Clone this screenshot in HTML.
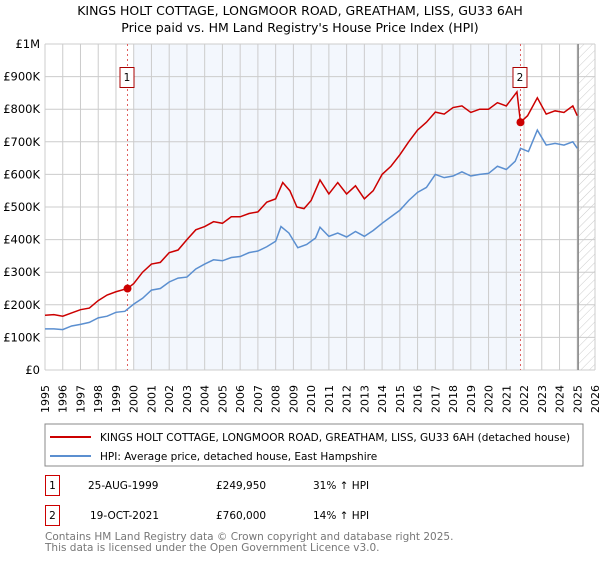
<!DOCTYPE html>
<html><head><meta charset="utf-8"><style>
body{margin:0;background:#fff;font-family:"Liberation Sans","DejaVu Sans",sans-serif;}
svg text{font-family:"DejaVu Sans","Liberation Sans",sans-serif;}
</style></head><body>
<svg id="chart" width="600" height="560" viewBox="0 0 600 560" xmlns="http://www.w3.org/2000/svg">
<defs><pattern id="hatch" width="6" height="6" patternUnits="userSpaceOnUse" patternTransform="rotate(45)"><line x1="0" y1="0" x2="0" y2="6" stroke="#ccc" stroke-width="1"/></pattern></defs>
<text x="300" y="15" text-anchor="middle" font-size="12.5" fill="#000">KINGS HOLT COTTAGE, LONGMOOR ROAD, GREATHAM, LISS, GU33 6AH</text>
<text x="300" y="32" text-anchor="middle" font-size="12.5" fill="#000">Price paid vs. HM Land Registry's House Price Index (HPI)</text>
<g id="plot"></g>
<rect x="45" y="424" width="538" height="42" fill="#fff" stroke="#888"/>
<line x1="50" y1="437" x2="91" y2="437" stroke="#cc0000" stroke-width="2"/>
<text x="100" y="441" font-size="10.5">KINGS HOLT COTTAGE, LONGMOOR ROAD, GREATHAM, LISS, GU33 6AH (detached house)</text>
<line x1="50" y1="456" x2="91" y2="456" stroke="#5b8fd0" stroke-width="2"/>
<text x="100" y="460" font-size="10.5">HPI: Average price, detached house, East Hampshire</text>
<g>
<rect x="45.5" y="475.5" width="14" height="20" fill="#fff" stroke="#cc0000"/>
<text x="52.5" y="489" text-anchor="middle" font-size="10.5">1</text>
<text x="88" y="489" font-size="10.5">25-AUG-1999</text>
<text x="216" y="489" font-size="10.5">£249,950</text>
<text x="313" y="489" font-size="10.5">31% ↑ HPI</text></g>
<g>
<rect x="45.5" y="505.5" width="14" height="20" fill="#fff" stroke="#cc0000"/>
<text x="52.5" y="519" text-anchor="middle" font-size="10.5">2</text>
<text x="90" y="519" font-size="10.5">19-OCT-2021</text>
<text x="216" y="519" font-size="10.5">£760,000</text>
<text x="313" y="519" font-size="10.5">14% ↑ HPI</text></g>
<text x="45" y="540" font-size="10.5" fill="#777">Contains HM Land Registry data © Crown copyright and database right 2025.</text>
<text x="45" y="551" font-size="10.5" fill="#777">This data is licensed under the Open Government Licence v3.0.</text>
</svg>
<script>
const yTicks=[0,100000,200000,300000,400000,500000,600000,700000,800000,900000,1000000];
const yTickLabels=["£0","£100K","£200K","£300K","£400K","£500K","£600K","£700K","£800K","£900K","£1M"];
const years=[1995,1996,1997,1998,1999,2000,2001,2002,2003,2004,2005,2006,2007,2008,2009,2010,2011,2012,2013,2014,2015,2016,2017,2018,2019,2020,2021,2022,2023,2024,2025,2026];
const hpiT=[1995,1995.5,1996,1996.5,1997,1997.5,1998,1998.5,1999,1999.5,2000,2000.5,2001,2001.5,2002,2002.5,2003,2003.5,2004,2004.5,2005,2005.5,2006,2006.5,2007,2007.5,2008,2008.3,2008.75,2009.25,2009.75,2010.25,2010.5,2011,2011.5,2012,2012.5,2013,2013.5,2014,2014.5,2015,2015.5,2016,2016.5,2017,2017.5,2018,2018.5,2019,2019.5,2020,2020.5,2021,2021.5,2021.8,2022.25,2022.75,2023.25,2023.75,2024.25,2024.75,2025];
const hpiV=[126000,126000,124000,135000,140000,146000,160000,165000,177000,180000,202000,220000,245000,250000,270000,282000,285000,310000,325000,338000,335000,345000,348000,360000,365000,378000,395000,440000,420000,375000,385000,405000,438000,410000,420000,408000,425000,410000,428000,450000,470000,490000,520000,545000,560000,600000,590000,595000,608000,595000,600000,603000,625000,615000,640000,680000,670000,736000,690000,695000,690000,700000,680000];
const priceT=[1995,1995.5,1996,1996.5,1997,1997.5,1998,1998.5,1999,1999.65,2000,2000.5,2001,2001.5,2002,2002.5,2003,2003.5,2004,2004.5,2005,2005.5,2006,2006.5,2007,2007.5,2008,2008.4,2008.8,2009.2,2009.6,2010,2010.5,2011,2011.5,2012,2012.5,2013,2013.5,2014,2014.5,2015,2015.5,2016,2016.5,2017,2017.5,2018,2018.5,2019,2019.5,2020,2020.5,2021,2021.6,2021.8,2022.2,2022.75,2023.25,2023.75,2024.25,2024.75,2025];
const priceV=[168000,170000,165000,175000,185000,190000,213000,230000,240000,250000,265000,300000,325000,330000,360000,368000,400000,430000,440000,455000,450000,470000,470000,480000,485000,515000,525000,575000,550000,500000,495000,520000,583000,540000,575000,540000,565000,525000,550000,600000,625000,660000,700000,736000,760000,791000,785000,805000,810000,790000,800000,800000,820000,810000,853000,760000,780000,835000,785000,795000,790000,810000,780000];
const saleT=[1999.65,2021.8];
const saleV=[249950,760000];
const saleLabels=["1","2"];
const X0=45,X1=595,Y0=370,Y1=44,T0=1995,T1=2026,VMAX=1000000;
const xs=t=>X0+(t-T0)/(T1-T0)*(X1-X0);
const ys=v=>Y0-v/VMAX*(Y0-Y1);
const NS="http://www.w3.org/2000/svg";
const g=document.getElementById('plot');
function mk(tag,attrs){const e=document.createElementNS(NS,tag);for(const k in attrs)e.setAttribute(k,attrs[k]);g.appendChild(e);return e;}
let e;
e=mk('rect',{x:xs(2000),y:Y1,width:xs(saleT[1])-xs(2000),height:Y0-Y1,fill:'#eef3fc',opacity:0.7});


e=mk('rect',{x:xs(2025.05),y:Y1,width:X1-xs(2025.05),height:Y0-Y1,fill:'url(#hatch)'});


years.forEach(y=>{e=mk('line',{x1:xs(y),x2:xs(y),y1:Y1,y2:Y0,stroke:'#ccc','stroke-width':1});


e=mk('text',{x:0,y:0,transform:`translate(${xs(y)+4},413) rotate(-90)`,'font-size':11});
e.textContent=y;

});
yTicks.forEach((v,i)=>{e=mk('line',{x1:X0,x2:X1,y1:ys(v),y2:ys(v),stroke:'#ccc','stroke-width':1});


e=mk('text',{x:X0-5,y:ys(v)+4,'text-anchor':'end','font-size':11.5});
e.textContent=yTickLabels[i];

});
e=mk('line',{x1:xs(2025.05),x2:xs(2025.05),y1:Y1,y2:Y0,stroke:'#888','stroke-width':1.5});


saleT.forEach((t,i)=>{e=mk('line',{x1:xs(t),x2:xs(t),y1:Y1,y2:Y0,stroke:'#e06060','stroke-width':1,'stroke-dasharray':'2,3'});

});
e=mk('polyline',{points:hpiT.map((t,i)=>xs(t)+','+ys(hpiV[i])).join(' '),fill:'none',stroke:'#5b8fd0','stroke-width':1.5});


e=mk('polyline',{points:priceT.map((t,i)=>xs(t)+','+ys(priceV[i])).join(' '),fill:'none',stroke:'#cc0000','stroke-width':1.5});


saleT.forEach((t,i)=>{e=mk('circle',{cx:xs(t),cy:ys(saleV[i]),r:4,fill:'#cc0000'});


e=mk('rect',{x:xs(t)-7.5,y:67.5,width:14,height:20,fill:'#fff',stroke:'#aa0000'});


e=mk('text',{x:xs(t)-0.5,y:81,'text-anchor':'middle','font-size':10.5});
e.textContent=saleLabels[i];

});
</script>
</body></html>
